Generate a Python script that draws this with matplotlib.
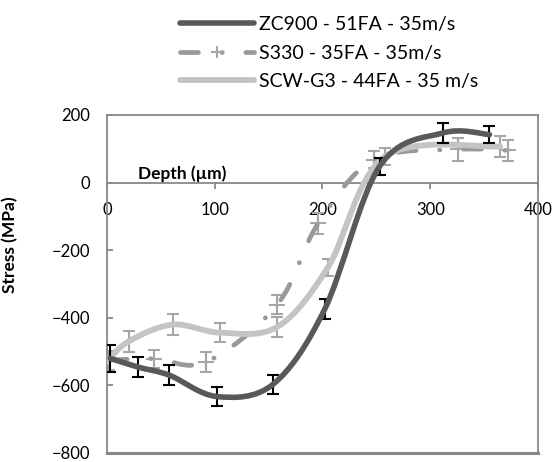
import numpy as np
import matplotlib
matplotlib.use("Agg")
import matplotlib.pyplot as plt
from matplotlib.path import Path
from matplotlib.patches import PathPatch
from matplotlib.lines import Line2D

plt.rcParams['font.family'] = ['Lato', 'DejaVu Sans']

# residual stress profiles (depth in um, stress in MPa, error bar half-width)
zc_depth = [3, 29, 58, 102, 154, 202, 253, 312, 355]
zc_stress = [-520, -546, -570, -633, -597, -375, 48, 147, 142]
zc_err = [40, 30, 30, 29, 28, 30, 25, 30, 26]

s330_depth = [2, 44, 92, 158, 196, 248, 326, 372]
s330_stress = [-525, -521, -531, -361, -121, 68, 98, 95]
s330_err = [28, 27, 30, 29, 30, 25, 34, 30]

scw_depth = [0, 20, 61, 105, 158, 205, 258, 365]
scw_stress = [-530, -470, -420, -444, -427, -251, 77, 107]
scw_err = [30, 30, 30, 29, 30, 26, 25, 30]

labels = ['ZC900 - 51FA - 35m/s', 'S330 - 35FA - 35m/s', 'SCW-G3 - 44FA - 35 m/s']

c_zc = '#595959'
c_s330 = '#999999'
c_scw = '#c4c4c4'
c_bar = '#a6a6a6'
c_axis = '#888888'


def smooth_path(xs, ys):
    # cubic bezier through every point, like a spreadsheet "smoothed line"
    p = np.column_stack([xs, ys]).astype(float)
    n = len(p)
    verts = [p[0]]
    codes = [Path.MOVETO]
    for i in range(n - 1):
        p_prev = p[i - 1] if i > 0 else p[i]
        p_next = p[i + 2] if i + 2 < n else p[i + 1]
        c1 = p[i] + (p[i + 1] - p_prev) / 6.0
        c2 = p[i + 1] - (p_next - p[i]) / 6.0
        verts += [c1, c2, p[i + 1]]
        codes += [Path.CURVE4] * 3
    return Path(verts, codes)


fig = plt.figure(figsize=(5.52, 4.62), dpi=100)
ax = fig.add_axes([0.1938, 0.0195, 0.7808, 0.7316])

s330_dash = (0, (3.8, 5, 0.05, 5))

# error bars
ax.errorbar(zc_depth, zc_stress, yerr=zc_err, fmt='none', ecolor='black',
            elinewidth=1.5, capsize=4, capthick=1.5, zorder=4)
ax.errorbar(s330_depth, s330_stress, yerr=s330_err, fmt='+', color=c_bar, ms=11,
            mew=1.5, ecolor=c_bar, elinewidth=1.5, capsize=4, capthick=1.5, zorder=2)
ax.errorbar(scw_depth, scw_stress, yerr=scw_err, fmt='none', ecolor=c_bar,
            elinewidth=1.5, capsize=4, capthick=1.5, zorder=2)

# smoothed curves
ax.add_patch(PathPatch(smooth_path(s330_depth, s330_stress), fill=False, ec=c_s330,
                       lw=3.4, ls=s330_dash, capstyle='round', joinstyle='round', zorder=3))
ax.add_patch(PathPatch(smooth_path(scw_depth, scw_stress), fill=False, ec=c_scw,
                       lw=4.2, capstyle='round', joinstyle='round', zorder=3))
ax.add_patch(PathPatch(smooth_path(zc_depth, zc_stress), fill=False, ec=c_zc,
                       lw=4.0, capstyle='round', joinstyle='round', zorder=5))

ax.set_xlim(0, 400)
ax.set_ylim(-800, 200)
ax.set_xticks([0, 100, 200, 300, 400])
ax.set_yticks([-800, -600, -400, -200, 0, 200])

for side in ['left', 'top', 'right']:
    ax.spines[side].set_color(c_axis)
    ax.spines[side].set_linewidth(1.3)
ax.spines['bottom'].set_position(('data', 0))
ax.spines['bottom'].set_color(c_axis)
ax.spines['bottom'].set_linewidth(1.3)
ax.axhline(-800, color=c_axis, lw=2.2, clip_on=False, zorder=6)

ax.tick_params(axis='x', direction='out', length=4, width=1.3, color=c_axis,
               labelsize=12, pad=10)
ax.tick_params(axis='y', direction='in', length=4, width=1.3, color=c_axis,
               labelsize=12, pad=12)

ax.text(70, 2, 'Depth (µm)', ha='center', va='bottom', fontsize=12.5, fontweight='bold')
ax.set_ylabel('Stress (MPa)', fontsize=12.5, fontweight='bold')
ax.yaxis.set_label_coords(-0.2065, 0.615)

handles = [
    Line2D([], [], color=c_zc, lw=4.0, solid_capstyle='round'),
    Line2D([], [], color=c_s330, lw=3.4, ls=s330_dash, dash_capstyle='round',
           marker='+', ms=8, mec=c_bar, mew=1.5),
    Line2D([], [], color=c_scw, lw=4.2, solid_capstyle='round'),
]
fig.legend(handles, labels, loc='upper left', bbox_to_anchor=(0.302, 0.995),
           frameon=False, fontsize=14, handlelength=3.8, handletextpad=0.25,
           labelspacing=0.6, borderpad=0.2)

fig.savefig('out.png', dpi=100)
